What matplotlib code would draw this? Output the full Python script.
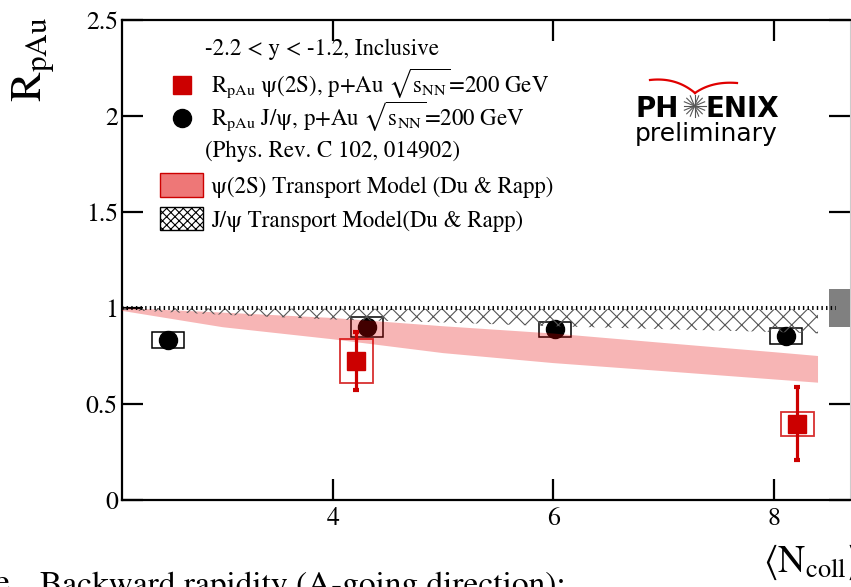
import matplotlib
matplotlib.use('Agg')
import matplotlib.pyplot as plt
from matplotlib.patches import Rectangle
from matplotlib.lines import Line2D
import numpy as np

plt.rcParams['font.family'] = ['STIXGeneral', 'DejaVu Serif']
plt.rcParams['mathtext.fontset'] = 'stix'
plt.rcParams['hatch.linewidth'] = 0.8

# ---------------- data ----------------
jpsi_ncoll = [2.50, 4.31, 6.01, 8.11]
jpsi_rpau = [0.833, 0.903, 0.889, 0.854]
jpsi_sys = [0.042, 0.052, 0.040, 0.041]

psi2s_ncoll = [4.21, 8.21]
psi2s_rpau = [0.724, 0.397]
psi2s_stat = [0.149, 0.190]
psi2s_sys = [0.116, 0.063]

model_ncoll = [2.087, 3.0, 4.0, 5.0, 6.0, 7.0, 8.0, 8.40]
psi2s_model_hi = [1.000, 0.976, 0.948, 0.905, 0.867, 0.818, 0.770, 0.750]
psi2s_model_lo = [0.985, 0.900, 0.837, 0.765, 0.713, 0.671, 0.628, 0.611]
jpsi_model_hi = [1.000, 0.998, 0.996, 0.995, 0.994, 0.993, 0.993, 0.993]
jpsi_model_lo = [0.990, 0.965, 0.940, 0.925, 0.905, 0.890, 0.875, 0.868]

global_unc = 0.10
xticks = [4, 6, 8]
xtick_labels = ['4', '6', '8']
yticks = [0, 0.5, 1, 1.5, 2, 2.5]
ytick_labels = ['0', '0.5', '1', '1.5', '2', '2.5']

RED = '#cc0000'
W, H = 851, 587


def fx(px):
    return px / W


def fy(py):
    return 1 - py / H


fig = plt.figure(figsize=(W / 100, H / 100), dpi=100)
ax = fig.add_axes([fx(122), fy(500), (850 - 122) / W, 480 / H])
ax.set_xlim(2.087, 8.69)
ax.set_ylim(0, 2.5)

# model bands (drawn over points, translucent pattern like the original)
ax.fill_between(model_ncoll, psi2s_model_lo, psi2s_model_hi, facecolor='#e60000',
                alpha=0.29, linewidth=0, zorder=6)
ax.fill_between(model_ncoll, jpsi_model_lo, jpsi_model_hi, facecolor='none',
                edgecolor='#555555', hatch='xx', linewidth=0, zorder=6)

# unity line
ax.plot([ax.get_xlim()[0], 8.56], [1, 1], color='black', lw=2.9,
        linestyle=(0, (0.35, 0.8)), solid_capstyle='butt', dash_capstyle='butt', zorder=7)

# global uncertainty box
ax.add_patch(Rectangle((8.50, 1 - global_unc), 0.3, 2 * global_unc, facecolor='#808080',
                       edgecolor='none', zorder=3, clip_on=True))

# J/psi systematic boxes and points
for x, y, s in zip(jpsi_ncoll, jpsi_rpau, jpsi_sys):
    ax.add_patch(Rectangle((x - 0.145, y - s), 0.29, 2 * s, fill=False,
                           edgecolor='black', lw=1.1, zorder=4))
ax.plot(jpsi_ncoll, jpsi_rpau, 'o', color='black', ms=13, zorder=5)

# psi(2S) systematic boxes and points
for x, y, s in zip(psi2s_ncoll, psi2s_rpau, psi2s_sys):
    ax.add_patch(Rectangle((x - 0.15, y - s), 0.30, 2 * s, fill=False,
                           edgecolor='#d83030', lw=1.3, zorder=4))
ax.errorbar(psi2s_ncoll, psi2s_rpau, yerr=psi2s_stat, fmt='s', color=RED, ms=13,
            elinewidth=2.3, capsize=2, capthick=3, zorder=5)

# axes styling
for sp in ['left', 'bottom', 'top']:
    ax.spines[sp].set_linewidth(1.6)
ax.spines['right'].set_color('#cccccc')
ax.spines['right'].set_linewidth(0.8)
ax.set_xticks(xticks)
ax.set_xticklabels(xtick_labels)
ax.set_yticks(yticks)
ax.set_yticklabels(ytick_labels)
ax.tick_params(direction='in', length=15, width=1.6, top=True, right=True,
               labelsize=18.5, pad=3)
ax.tick_params(axis='x', pad=5)
ax.minorticks_off()

# axis titles
fig.text(fx(34), fy(59), r'R$_{\mathregular{pAu}}$', rotation=90, fontsize=32,
         ha='center', va='center')
fig.text(fx(763), fy(572), r'$\langle\mathregular{N}_{\mathregular{coll}}\rangle$',
         fontsize=27, ha='left', va='baseline')

# legend (hand placed like the original)
fs = 16.5
sq = r'$\sqrt{\mathregular{s}_{\mathregular{NN}}}$'
fig.text(fx(205), fy(55), '-2.2 < y < -1.2, Inclusive', fontsize=fs, va='baseline')
fig.add_artist(Line2D([fx(181.5)], [fy(85.5)], marker='s', ms=13, color=RED,
                      linestyle='none', transform=fig.transFigure))
fig.text(fx(211), fy(92), r'R$_{\mathregular{pAu}}$ ψ(2S), p+Au ' + sq + '=200 GeV',
         fontsize=fs, va='baseline')
fig.add_artist(Line2D([fx(181.7)], [fy(118.3)], marker='o', ms=13, color='black',
                      linestyle='none', transform=fig.transFigure))
fig.text(fx(211), fy(125), r'R$_{\mathregular{pAu}}$ J/ψ, p+Au ' + sq + '=200 GeV',
         fontsize=fs, va='baseline')
fig.text(fx(205), fy(157), '(Phys. Rev. C 102, 014902)', fontsize=fs, va='baseline')
fig.add_artist(Rectangle((fx(160), fy(196.7)), fx(42.7), 24 / H, facecolor='#ee7777',
                         edgecolor=RED, lw=1.0, transform=fig.transFigure))
fig.text(fx(211), fy(193), 'ψ(2S) Transport Model (Du & Rapp)', fontsize=fs, va='baseline')
fig.add_artist(Rectangle((fx(160), fy(230)), fx(42.7), 23.3 / H, facecolor='white',
                         edgecolor='black', hatch='xxxx', lw=1.0, transform=fig.transFigure))
fig.text(fx(211), fy(227), 'J/ψ Transport Model(Du & Rapp)', fontsize=fs, va='baseline')

# PHENIX preliminary logo
fig.text(fx(636), fy(117), 'PH', fontsize=20, fontweight='bold', family='DejaVu Sans',
         va='baseline', ha='left')
fig.text(fx(706), fy(117), 'ENIX', fontsize=20, fontweight='bold', family='DejaVu Sans',
         va='baseline', ha='left')
fig.text(fx(635), fy(141), 'preliminary', fontsize=18, family='DejaVu Sans',
         va='baseline', ha='left')
cx, cy = 694.5, 106
for ang in np.linspace(0, np.pi, 8, endpoint=False):
    dx, dy = 11 * np.cos(ang), 11 * np.sin(ang)
    fig.add_artist(Line2D([fx(cx - dx), fx(cx + dx)], [fy(cy - dy), fy(cy + dy)],
                          color='#555555', lw=0.8, transform=fig.transFigure))
t = np.linspace(0, 1, 30)
lx = (1 - t) ** 2 * 650 + 2 * (1 - t) * t * 676 + t ** 2 * 695
ly = (1 - t) ** 2 * 80 + 2 * (1 - t) * t * 77 + t ** 2 * 93
rx = (1 - t) ** 2 * 695 + 2 * (1 - t) * t * 712 + t ** 2 * 737
ry = (1 - t) ** 2 * 93 + 2 * (1 - t) * t * 81 + t ** 2 * 83
fig.add_artist(Line2D(fx(lx), fy(ly), color='#e00000', lw=1.6, transform=fig.transFigure))
fig.add_artist(Line2D(fx(rx), fy(ry), color='#e00000', lw=1.6, transform=fig.transFigure))

# slide text partially visible at the bottom
fig.text(fx(-6), fy(592), 'e', fontsize=24, va='baseline', ha='left')
fig.text(fx(40), fy(594), 'Backward rapidity (A-going direction):', fontsize=24,
         va='baseline', ha='left')

fig.savefig('out.png', dpi=100)
